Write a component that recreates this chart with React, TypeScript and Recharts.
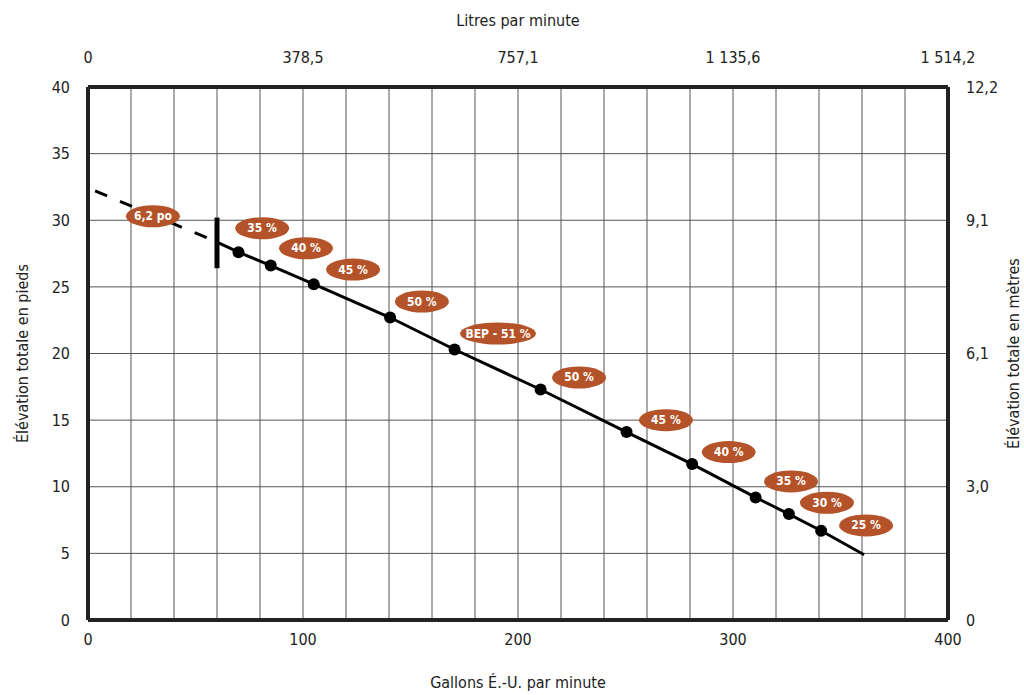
import React from "react";
import {
  ComposedChart,
  Line,
  Scatter,
  XAxis,
  YAxis,
  CartesianGrid,
  ReferenceLine,
  Label,
} from "recharts";

const FONT = "'DejaVu Sans', sans-serif";
const INK = "#222";
const BADGE = "#B4532A";

// gallons per minute -> total head in feet
const gpmTicks = [0, 20, 40, 60, 80, 100, 120, 140, 160, 180, 200, 220, 240, 260, 280, 300, 320, 340, 360, 380, 400];
const gpmLabels = [0, 100, 200, 300, 400];
const litreLabels = ["0", "378,5", "757,1", "1 135,6", "1 514,2"];
const feetTicks = [0, 5, 10, 15, 20, 25, 30, 35, 40];
const metreTicks = [0, 10, 20, 30, 40];
const metreLabels = ["0", "3,0", "6,1", "9,1", "12,2"];

const curve = [
  { x: 59.5, y: 28.4 },
  { x: 70, y: 27.6 },
  { x: 85, y: 26.6 },
  { x: 105, y: 25.2 },
  { x: 140.5, y: 22.7 },
  { x: 170.5, y: 20.3 },
  { x: 210.5, y: 17.3 },
  { x: 250.5, y: 14.1 },
  { x: 281, y: 11.7 },
  { x: 310.5, y: 9.2 },
  { x: 326, y: 7.95 },
  { x: 341, y: 6.7 },
  { x: 361, y: 4.9 },
];
const dashed = [
  { x: 3.3, y: 32.2 },
  { x: 59.5, y: 28.4 },
];
const points = curve.slice(1, -1);

const badges = [
  { x: 30.2, y: 30.3, text: "6,2 po", w: 54 },
  { x: 81, y: 29.4, text: "35 %", w: 54 },
  { x: 101.4, y: 27.9, text: "40 %", w: 54 },
  { x: 123.3, y: 26.3, text: "45 %", w: 54 },
  { x: 155.3, y: 23.9, text: "50 %", w: 54 },
  { x: 190.7, y: 21.5, text: "BEP - 51 %", w: 76 },
  { x: 228.4, y: 18.2, text: "50 %", w: 54 },
  { x: 268.8, y: 15.0, text: "45 %", w: 54 },
  { x: 298, y: 12.6, text: "40 %", w: 54 },
  { x: 327, y: 10.4, text: "35 %", w: 54 },
  { x: 343.7, y: 8.8, text: "30 %", w: 54 },
  { x: 361.9, y: 7.1, text: "25 %", w: 54 },
];
const anchor = [{ x: 0, y: 0 }];

const textStyle = { fill: INK, fontSize: 16, fontFamily: FONT, fontStretch: "condensed" };

const Badge = (props: any) => {
  const { cx, cy, payload } = props;
  if (cx == null || cy == null) return null;
  return (
    <g>
      <ellipse cx={cx} cy={cy} rx={payload.w / 2} ry={11} fill={BADGE} />
      <text
        x={cx}
        y={cy}
        textAnchor="middle"
        dominantBaseline="central"
        fill="#fff"
        fontSize={12}
        fontWeight="bold"
        fontFamily={FONT}
        style={{ fontStretch: "condensed" }}
      >
        {payload.text}
      </text>
    </g>
  );
};

const Dot = (props: any) => {
  const { cx, cy } = props;
  if (cx == null || cy == null) return null;
  return <circle cx={cx} cy={cy} r={6} fill="#000" />;
};

export default function App() {
  return (
    <div style={{ position: "absolute", left: 0, top: 0, background: "#fff" }}>
      <ComposedChart
        width={1024}
        height={695}
        margin={{ top: 57, right: 36, bottom: 45, left: 48 }}
      >
        <CartesianGrid stroke="#555" strokeWidth={1} />
        <XAxis
          type="number"
          dataKey="x"
          domain={[0, 400]}
          ticks={gpmTicks}
          interval={0}
          tickFormatter={(v: number) => (gpmLabels.includes(v) ? String(v) : "")}
          tickLine={false}
          axisLine={{ stroke: INK, strokeWidth: 4 }}
          tick={textStyle}
          tickMargin={8}
          height={30}
        >
          <Label value="Gallons É.-U. par minute" position="bottom" offset={27} style={textStyle} />
        </XAxis>
        <XAxis
          xAxisId="top"
          orientation="top"
          type="number"
          dataKey="x"
          domain={[0, 400]}
          ticks={gpmLabels}
          interval={0}
          tickFormatter={(v: number) => litreLabels[gpmLabels.indexOf(v)]}
          tickLine={false}
          axisLine={{ stroke: INK, strokeWidth: 4 }}
          tick={textStyle}
          tickMargin={18}
          height={30}
        >
          <Label value="Litres par minute" position="top" offset={31} style={textStyle} />
        </XAxis>
        <YAxis
          type="number"
          dataKey="y"
          domain={[0, 40]}
          ticks={feetTicks}
          interval={0}
          tickLine={false}
          axisLine={{ stroke: INK, strokeWidth: 4 }}
          tick={textStyle}
          tickMargin={12}
          width={40}
        >
          <Label
            value="Élévation totale en pieds"
            angle={-90}
            position="left"
            offset={26}
            style={{ ...textStyle, textAnchor: "middle" }}
          />
        </YAxis>
        <YAxis
          yAxisId="right"
          orientation="right"
          type="number"
          dataKey="y"
          domain={[0, 40]}
          ticks={metreTicks}
          interval={0}
          tickFormatter={(v: number) => metreLabels[metreTicks.indexOf(v)]}
          tickLine={false}
          axisLine={{ stroke: INK, strokeWidth: 4 }}
          tick={textStyle}
          tickMargin={12}
          width={40}
        >
          <Label
            value="Élévation totale en mètres"
            angle={-90}
            position="right"
            offset={25}
            style={{ ...textStyle, textAnchor: "middle" }}
          />
        </YAxis>
        <Scatter
          data={anchor}
          dataKey="y"
          xAxisId="top"
          yAxisId="right"
          shape={() => <g />}
          isAnimationActive={false}
        />
        <Line
          data={dashed}
          dataKey="y"
          type="linear"
          stroke="#000"
          strokeWidth={3}
          strokeDasharray="13 14"
          dot={false}
          activeDot={false}
          isAnimationActive={false}
        />
        <Line
          data={curve}
          dataKey="y"
          type="linear"
          stroke="#000"
          strokeWidth={3}
          dot={false}
          activeDot={false}
          isAnimationActive={false}
        />
        <ReferenceLine
          segment={[
            { x: 60, y: 26.4 },
            { x: 60, y: 30.2 },
          ]}
          stroke="#000"
          strokeWidth={5}
        />
        <Scatter data={points} dataKey="y" shape={<Dot />} isAnimationActive={false} />
        <Scatter data={badges} dataKey="y" shape={<Badge />} isAnimationActive={false} />
      </ComposedChart>
    </div>
  );
}
